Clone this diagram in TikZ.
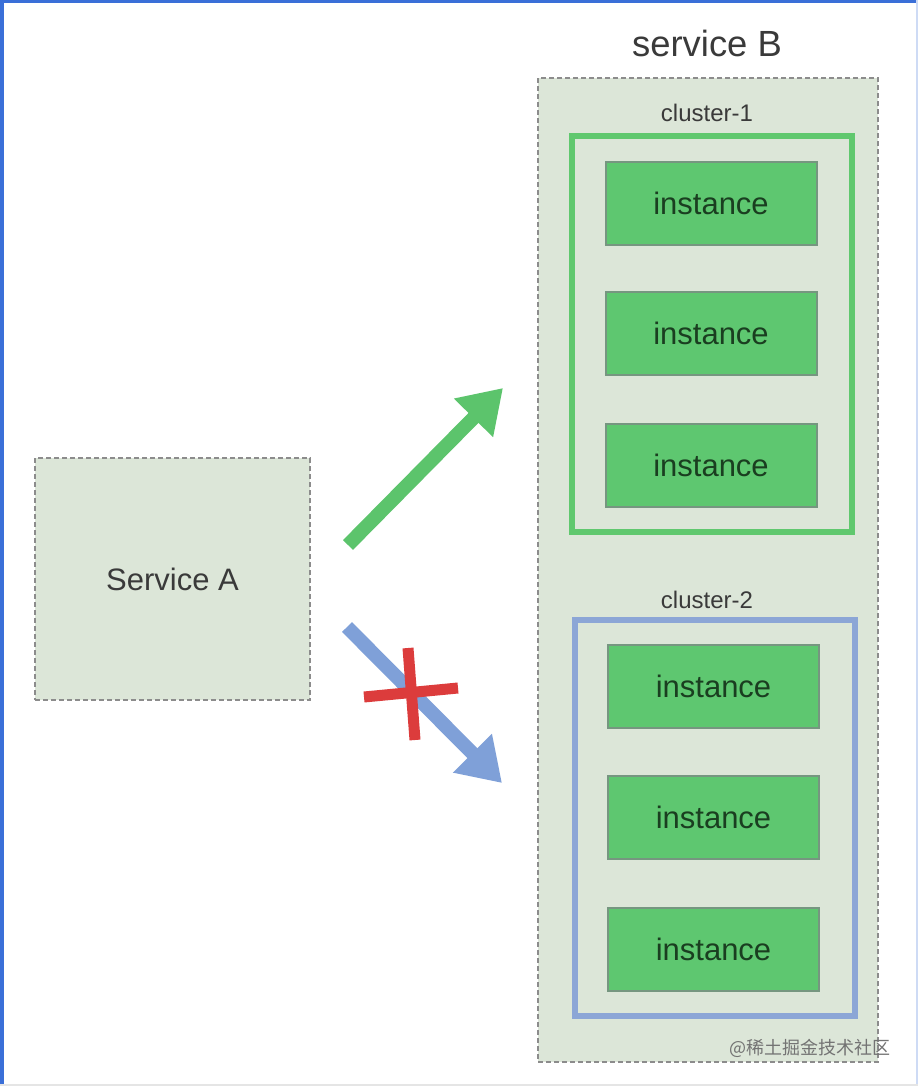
\documentclass[tikz,border=0pt]{standalone}
\usepackage{tikz}
\usepackage{xcolor}
\usepackage{fontspec}
\setmainfont{Liberation Sans}
\newfontfamily\cjkfont{Noto Sans CJK SC}
\usetikzlibrary{arrows.meta}
\definecolor{boxbg}{RGB}{220,230,216}
\definecolor{dashgray}{RGB}{140,140,140}
\definecolor{instgreen}{RGB}{94,199,112}
\definecolor{instedge}{RGB}{118,150,128}
\definecolor{insttext}{RGB}{26,62,32}
\definecolor{clustergreen}{RGB}{96,200,110}
\definecolor{clusterblue}{RGB}{140,166,214}
\definecolor{arrowgreen}{RGB}{92,196,108}
\definecolor{arrowblue}{RGB}{127,160,216}
\definecolor{crossred}{RGB}{220,60,60}
\definecolor{labelgray}{RGB}{58,58,58}
\definecolor{framblue}{RGB}{58,111,216}

\begin{document}
\begin{tikzpicture}[x=0.5pt, y=-0.5pt,
  svcbox/.style={draw=dashgray, fill=boxbg, line width=1pt, dash pattern=on 2.5pt off 1.5pt, text=labelgray, font=\fontsize{15.5}{18}\selectfont},
  clusterbox/.style={line width=3pt, fill=boxbg, minimum width=140pt, minimum height=198pt},
  inst/.style={draw=instedge, fill=instgreen, line width=1pt, minimum width=105.5pt, minimum height=41.5pt, text=insttext, font=\fontsize{15.5}{18}\selectfont},
  clabel/.style={text=labelgray, font=\fontsize{12}{14}\selectfont},
  fatarrow/.style={line width=7pt, -{Triangle[length=21pt, width=26pt]}},
  crossbar/.style={crossred, line width=5.5pt}]
  \useasboundingbox (0,0) rectangle (918,1086);
  \fill[white] (0,0) rectangle (918,1086);
  \draw[framblue, line width=2pt] (2,0) -- (2,1086);
  \draw[framblue, line width=1.5pt] (0,1.5) -- (918,1.5);
  \draw[framblue!25, line width=1pt] (916.5,0) -- (916.5,1086);
  \draw[black!10, line width=1pt] (0,1084.5) -- (918,1084.5);

  \node[svcbox, minimum width=137.5pt, minimum height=121pt] (svcA) at (172.5,579) {Service A};
  \node[svcbox, minimum width=170pt, minimum height=492pt] (svcB) at (708,570) {};
  \node[text=labelgray, font=\fontsize{18.2}{22}\selectfont] (svcBlabel) at (707,43) {service B};

  \node[clabel] (c1label) at (707,113) {cluster-1};
  \node[clusterbox, draw=clustergreen] (c1) at (712,334) {};
  \foreach \y [count=\i] in {203.5,333.5,465.5}
    \node[inst] (a\i) at (711,\y) {instance};

  \node[clabel] (c2label) at (707,600) {cluster-2};
  \node[clusterbox, draw=clusterblue] (c2) at (714.5,817.5) {};
  \foreach \y [count=\i] in {686.5,817.5,949.5}
    \node[inst] (b\i) at (713.5,\y) {instance};

  \coordinate (gs) at (348,545);
  \coordinate (ge) at (503,388);
  \coordinate (bs) at (347,627);
  \coordinate (be) at (502,783);
  \draw[fatarrow, arrowgreen] (gs) -- (ge);
  \draw[fatarrow, arrowblue] (bs) -- (be);

  \coordinate (xl) at (364,697);
  \coordinate (xr) at (458,688);
  \coordinate (xt) at (408,648);
  \coordinate (xb) at (415,740);
  \draw[crossbar] (xl) -- (xr);
  \draw[crossbar] (xt) -- (xb);

  \node[text=black!55, font=\cjkfont\fontsize{9}{11}\selectfont] (mark) at (810,1048) {@稀土掘金技术社区};
\end{tikzpicture}
\end{document}
